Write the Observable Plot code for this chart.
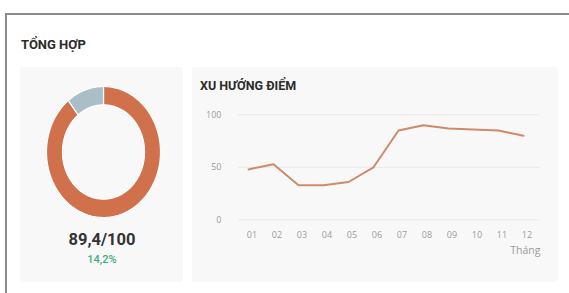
<!DOCTYPE html>
<html><head><meta charset="utf-8">
<script src="https://cdn.jsdelivr.net/npm/d3@7"></script>
<script src="https://cdn.jsdelivr.net/npm/@observablehq/plot@0.6"></script>
<style>
html,body{margin:0;padding:0;background:#fff}
body{font-family:Roboto,"Noto Sans",sans-serif;width:569px;height:293px;overflow:hidden;position:relative}
.abs{position:absolute}
.panel{background:#f8f8f8;border-radius:3px}
.t{line-height:1;white-space:nowrap}
</style></head><body>
<div class="abs" style="left:5px;top:13px;width:620px;height:320px;border-top:2px solid #8c8c8c;border-left:2px solid #8c8c8c"></div>
<div class="abs t" style="left:21px;top:37.8px;font-size:13px;font-weight:700;color:#2b2b2b">TỔNG HỢP</div>
<div class="abs panel" style="left:20px;top:67px;width:163px;height:215px"></div>
<div class="abs panel" style="left:192px;top:67px;width:366px;height:215px"></div>
<div class="abs t" style="left:200px;top:80.2px;font-size:12.5px;font-weight:700;color:#2b2b2b">XU HƯỚNG ĐIỂM</div>
<div id="donut" class="abs" style="left:45.5px;top:86px"></div>
<div id="score" class="abs t" style="left:20px;width:164px;text-align:center;top:231.8px;font-size:16.5px;font-weight:700;color:#333"></div>
<div id="pct" class="abs t" style="left:20px;width:164px;text-align:center;top:254.1px;font-size:11px;font-weight:500;color:#3fae78"></div>
<div id="trend" class="abs" style="left:192px;top:100px"></div>
<script>
const sliceNames = ["Đạt", "Còn lại"];
const sliceValues = [89.4, 10.6];
const sliceColors = ["#D0714B", "#A9BEC7"];
const scoreText = "89,4/100";
const changeText = "14,2%";

const months = ["01","02","03","04","05","06","07","08","09","10","11","12"];
const scores = [48, 53, 33, 33, 36, 50, 85, 90, 87, 86, 85, 80];
const yTicks = [0, 50, 100];
const xLabel = "Tháng";

document.getElementById("score").textContent = scoreText;
document.getElementById("pct").textContent = changeText;

// Donut ring polygons from d3.pie angles
const arcs = d3.pie().sort(null)(sliceValues);
const inner = 0.72;
function ring(a) {
  const n = Math.max(8, Math.ceil((a.endAngle - a.startAngle) / 0.02));
  const pts = [];
  for (let i = 0; i <= n; i++) {
    const t = a.startAngle + (a.endAngle - a.startAngle) * i / n;
    pts.push({x: Math.sin(t), y: Math.cos(t)});
  }
  for (let i = n; i >= 0; i--) {
    const t = a.startAngle + (a.endAngle - a.startAngle) * i / n;
    pts.push({x: inner * Math.sin(t), y: inner * Math.cos(t)});
  }
  return pts;
}
const donut = Plot.plot({
  width: 114, height: 131, margin: 0,
  x: {domain: [-1, 1], axis: null},
  y: {domain: [-1, 1], axis: null},
  style: {background: "transparent", overflow: "visible"},
  marks: arcs.map((a, i) => Plot.line(ring(a), {
    x: "x", y: "y", curve: "linear-closed",
    fill: sliceColors[i], stroke: "#ffffff", strokeWidth: 1.2, title: () => sliceNames[i]
  }))
});
document.getElementById("donut").appendChild(donut);

const data = months.map((m, i) => ({month: m, score: scores[i]}));
const trend = Plot.plot({
  width: 366, height: 165,
  marginLeft: 46, marginRight: 18, marginTop: 14.3, marginBottom: 45.7,
  x: {type: "point", domain: months, range: [54.7, 333], padding: 0},
  y: {domain: [0, 100]},
  style: {background: "transparent", fontFamily: "'Open Sans', sans-serif", fontSize: "9px", color: "#9a9a9a", overflow: "visible"},
  marks: [
    Plot.ruleY(yTicks, {stroke: "#e9e9e9", strokeWidth: 1}),
    Plot.axisY({ticks: yTicks, tickSize: 0, tickPadding: 17, label: null, fill: "#9a9a9a"}),
    Plot.axisX({tickSize: 0, tickPadding: 11.5, dx: 3.5, label: null, fill: "#9a9a9a"}),
    Plot.line(data, {x: "month", y: "score", stroke: "#CF8a69", strokeWidth: 2}),
    Plot.text([xLabel], {frameAnchor: "bottom-right", dy: 31, textAnchor: "end", lineAnchor: "middle", fontSize: 10.5, fill: "#9a9a9a"})
  ]
});
document.getElementById("trend").appendChild(trend);
</script>
</body></html>
